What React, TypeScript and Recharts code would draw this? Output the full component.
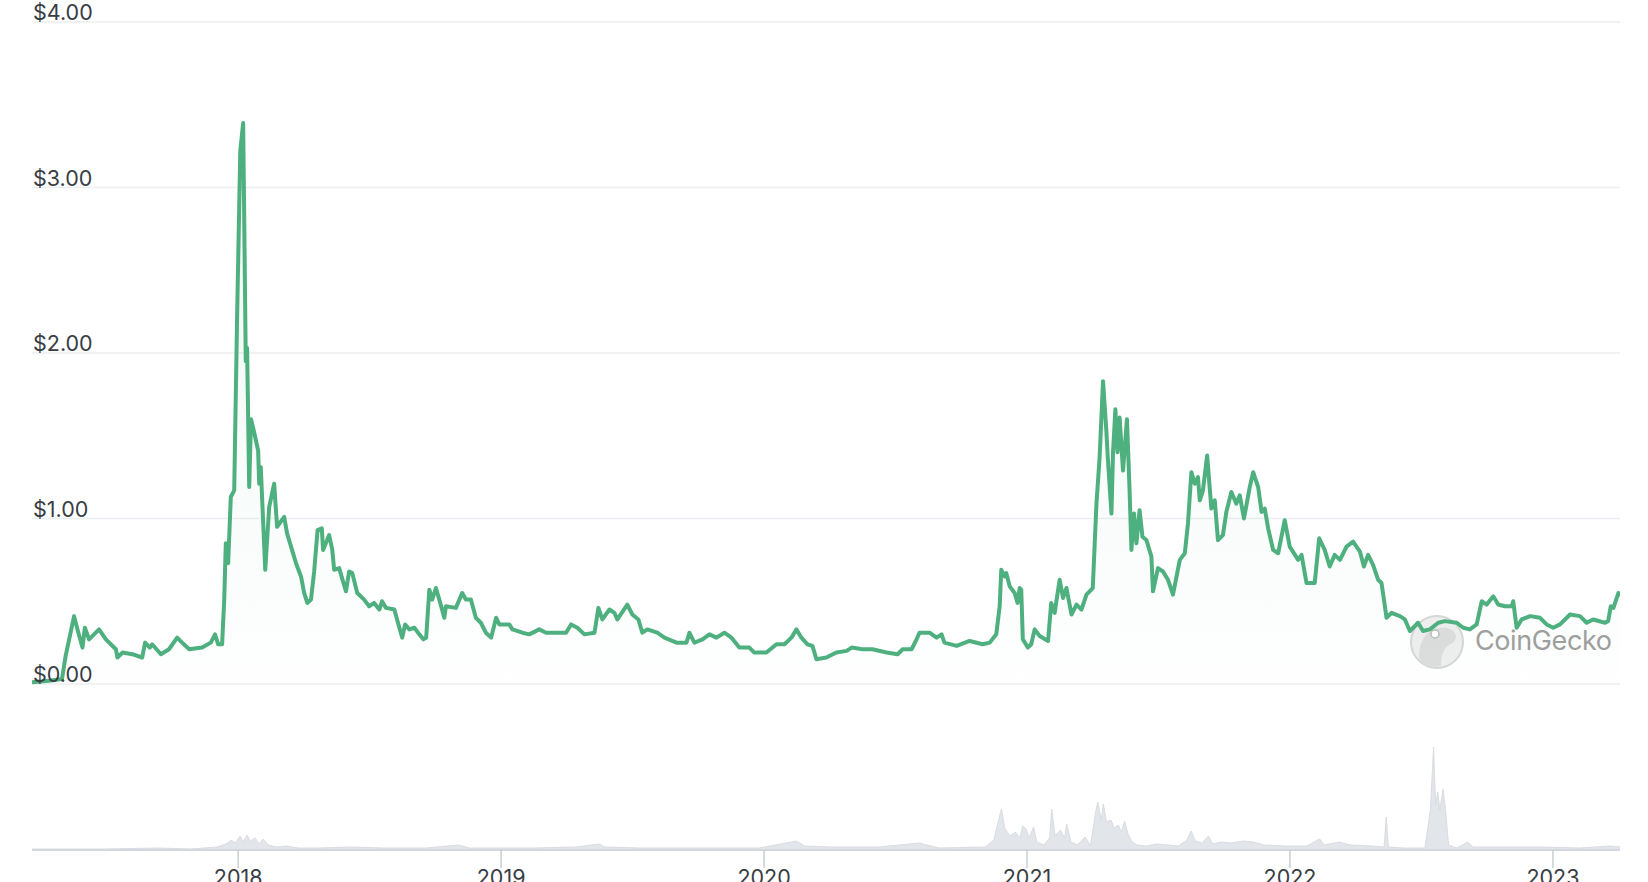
import { AreaChart, Area, XAxis, YAxis, CartesianGrid } from 'recharts';

// price history, decimal year -> USD
const priceDates = [
  2017.216, 2017.281, 2017.33, 2017.344, 2017.376, 2017.389, 2017.408, 2017.417, 2017.433, 2017.471,
  2017.497, 2017.535, 2017.541, 2017.56, 2017.597, 2017.635, 2017.646, 2017.664, 2017.673, 2017.706,
  2017.737, 2017.768, 2017.787, 2017.814, 2017.863, 2017.896, 2017.912, 2017.924, 2017.939, 2017.947,
  2017.953, 2017.962, 2017.972, 2017.985, 2017.996, 2018.008, 2018.019, 2018.029, 2018.034, 2018.042,
  2018.049, 2018.061, 2018.076, 2018.08, 2018.086, 2018.103, 2018.11, 2018.118, 2018.137, 2018.148,
  2018.175, 2018.186, 2018.22, 2018.239, 2018.251, 2018.263, 2018.277, 2018.289, 2018.302, 2018.318,
  2018.323, 2018.346, 2018.358, 2018.365, 2018.384, 2018.41, 2018.422, 2018.434, 2018.453, 2018.479,
  2018.498, 2018.517, 2018.537, 2018.547, 2018.562, 2018.594, 2018.613, 2018.624, 2018.635, 2018.651,
  2018.67, 2018.689, 2018.704, 2018.715, 2018.727, 2018.738, 2018.752, 2018.765, 2018.784, 2018.79,
  2018.828, 2018.852, 2018.866, 2018.885, 2018.904, 2018.923, 2018.942, 2018.962, 2018.981, 2018.993,
  2019.031, 2019.043, 2019.081, 2019.107, 2019.145, 2019.171, 2019.221, 2019.247, 2019.266, 2019.29,
  2019.317, 2019.355, 2019.37, 2019.385, 2019.412, 2019.431, 2019.442, 2019.48, 2019.499, 2019.522,
  2019.537, 2019.556, 2019.594, 2019.621, 2019.667, 2019.705, 2019.716, 2019.735, 2019.766, 2019.792,
  2019.819, 2019.849, 2019.876, 2019.906, 2019.944, 2019.963, 2020.009, 2020.047, 2020.078, 2020.104,
  2020.123, 2020.142, 2020.165, 2020.184, 2020.199, 2020.237, 2020.275, 2020.314, 2020.333, 2020.374,
  2020.412, 2020.466, 2020.508, 2020.527, 2020.561, 2020.58, 2020.591, 2020.629, 2020.656, 2020.675,
  2020.686, 2020.732, 2020.782, 2020.831, 2020.858, 2020.883, 2020.896, 2020.902, 2020.915, 2020.921,
  2020.934, 2020.953, 2020.964, 2020.972, 2020.978, 2020.984, 2021.003, 2021.016, 2021.029, 2021.048,
  2021.08, 2021.092, 2021.105, 2021.124, 2021.137, 2021.15, 2021.169, 2021.188, 2021.207, 2021.226,
  2021.25, 2021.264, 2021.276, 2021.289, 2021.302, 2021.307, 2021.321, 2021.327, 2021.336, 2021.344,
  2021.352, 2021.365, 2021.38, 2021.39, 2021.397, 2021.407, 2021.416, 2021.428, 2021.439, 2021.454,
  2021.473, 2021.479, 2021.498, 2021.517, 2021.536, 2021.555, 2021.581, 2021.6, 2021.612, 2021.625,
  2021.638, 2021.65, 2021.657, 2021.669, 2021.685, 2021.701, 2021.714, 2021.726, 2021.745, 2021.758,
  2021.777, 2021.796, 2021.809, 2021.825, 2021.847, 2021.86, 2021.879, 2021.892, 2021.904, 2021.917,
  2021.936, 2021.955, 2021.98, 2021.999, 2022.031, 2022.044, 2022.063, 2022.094, 2022.111, 2022.132,
  2022.151, 2022.17, 2022.19, 2022.215, 2022.24, 2022.266, 2022.281, 2022.297, 2022.316, 2022.335,
  2022.348, 2022.361, 2022.367, 2022.386, 2022.418, 2022.437, 2022.456, 2022.487, 2022.506, 2022.532,
  2022.564, 2022.589, 2022.634, 2022.659, 2022.684, 2022.71, 2022.729, 2022.748, 2022.773, 2022.792,
  2022.817, 2022.843, 2022.849, 2022.862, 2022.881, 2022.913, 2022.951, 2022.976, 2023.001, 2023.027,
  2023.065, 2023.103, 2023.128, 2023.153, 2023.198, 2023.21, 2023.22, 2023.23, 2023.249, 2023.255,
];

const prices = [
  0.01, 0.02, 0.03, 0.17, 0.41, 0.33, 0.22, 0.34, 0.27, 0.33,
  0.27, 0.21, 0.16, 0.19, 0.18, 0.16, 0.25, 0.22, 0.24, 0.18,
  0.21, 0.28, 0.25, 0.21, 0.22, 0.25, 0.3, 0.24, 0.24, 0.51,
  0.85, 0.73, 1.13, 1.17, 2.22, 3.22, 3.39, 1.95, 2.03, 1.19,
  1.6, 1.52, 1.41, 1.21, 1.31, 0.69, 0.87, 1.07, 1.21, 0.95,
  1.01, 0.91, 0.73, 0.65, 0.55, 0.49, 0.51, 0.68, 0.93, 0.94,
  0.81, 0.9, 0.81, 0.69, 0.7, 0.56, 0.68, 0.67, 0.55, 0.51,
  0.47, 0.49, 0.45, 0.5, 0.46, 0.45, 0.34, 0.28, 0.36, 0.33,
  0.34, 0.3, 0.27, 0.28, 0.57, 0.51, 0.58, 0.51, 0.4, 0.47,
  0.46, 0.55, 0.51, 0.51, 0.4, 0.37, 0.31, 0.28, 0.4, 0.36,
  0.36, 0.33, 0.31, 0.3, 0.33, 0.31, 0.31, 0.31, 0.36, 0.34,
  0.3, 0.31, 0.46, 0.39, 0.45, 0.43, 0.39, 0.48, 0.42, 0.39,
  0.31, 0.33, 0.31, 0.28, 0.25, 0.25, 0.31, 0.25, 0.27, 0.3,
  0.28, 0.31, 0.28, 0.22, 0.22, 0.19, 0.19, 0.24, 0.24, 0.28,
  0.33, 0.28, 0.24, 0.23, 0.15, 0.16, 0.19, 0.2, 0.22, 0.21,
  0.21, 0.19, 0.18, 0.21, 0.21, 0.27, 0.31, 0.31, 0.28, 0.3,
  0.25, 0.23, 0.26, 0.24, 0.25, 0.3, 0.47, 0.69, 0.65, 0.67,
  0.59, 0.55, 0.49, 0.58, 0.57, 0.27, 0.22, 0.24, 0.33, 0.29,
  0.26, 0.49, 0.43, 0.63, 0.52, 0.58, 0.42, 0.48, 0.45, 0.54,
  0.58, 1.09, 1.37, 1.83, 1.52, 1.37, 1.03, 1.4, 1.66, 1.4,
  1.61, 1.29, 1.6, 1.17, 0.81, 1.03, 0.85, 1.05, 0.89, 0.87,
  0.77, 0.56, 0.7, 0.68, 0.63, 0.54, 0.75, 0.79, 0.97, 1.28,
  1.21, 1.25, 1.11, 1.17, 1.38, 1.06, 1.11, 0.87, 0.9, 1.04,
  1.16, 1.09, 1.14, 1.0, 1.19, 1.28, 1.19, 1.04, 1.06, 0.94,
  0.81, 0.79, 0.99, 0.83, 0.75, 0.78, 0.61, 0.61, 0.88, 0.81,
  0.71, 0.78, 0.75, 0.83, 0.86, 0.8, 0.71, 0.78, 0.72, 0.63,
  0.61, 0.47, 0.4, 0.43, 0.41, 0.39, 0.32, 0.37, 0.32, 0.33,
  0.37, 0.38, 0.37, 0.34, 0.33, 0.36, 0.5, 0.48, 0.53, 0.48,
  0.47, 0.47, 0.5, 0.34, 0.39, 0.41, 0.4, 0.36, 0.34, 0.36,
  0.42, 0.41, 0.37, 0.39, 0.37, 0.38, 0.47, 0.46, 0.55, 0.53,
];

// trading volume (relative units)
const volumeDates = [
  2017.216, 2017.494, 2017.696, 2017.817, 2017.92, 2017.954, 2017.973, 2017.989, 2018.008, 2018.019,
  2018.034, 2018.046, 2018.065, 2018.08, 2018.095, 2018.114, 2018.145, 2018.186, 2018.228, 2018.308,
  2018.43, 2018.552, 2018.715, 2018.837, 2018.879, 2019.001, 2019.123, 2019.286, 2019.374, 2019.393,
  2019.526, 2019.754, 2019.983, 2020.123, 2020.154, 2020.249, 2020.439, 2020.591, 2020.618, 2020.667,
  2020.841, 2020.874, 2020.89, 2020.903, 2020.915, 2020.935, 2020.956, 2020.972, 2020.984, 2020.996,
  2021.008, 2021.025, 2021.037, 2021.065, 2021.086, 2021.094, 2021.107, 2021.127, 2021.143, 2021.151,
  2021.167, 2021.192, 2021.221, 2021.241, 2021.261, 2021.269, 2021.282, 2021.29, 2021.302, 2021.319,
  2021.331, 2021.347, 2021.359, 2021.371, 2021.384, 2021.4, 2021.42, 2021.453, 2021.494, 2021.535,
  2021.575, 2021.608, 2021.624, 2021.64, 2021.665, 2021.69, 2021.706, 2021.738, 2021.779, 2021.82,
  2021.861, 2021.901, 2021.983, 2022.064, 2022.113, 2022.13, 2022.187, 2022.228, 2022.309, 2022.358,
  2022.366, 2022.374, 2022.432, 2022.472, 2022.513, 2022.534, 2022.546, 2022.554, 2022.562, 2022.57,
  2022.582, 2022.591, 2022.603, 2022.635, 2022.676, 2022.696, 2022.798, 2022.951, 2023.103, 2023.217,
  2023.255,
];

const volumes = [
  1, 1, 2, 1, 3, 6, 10, 7, 14, 8,
  15, 9, 12, 6, 11, 5, 3, 4, 2, 2,
  3, 2, 2, 5, 2, 2, 2, 3, 6, 3,
  2, 2, 2, 9, 4, 3, 3, 7, 5, 2,
  3, 10, 28, 41, 22, 14, 18, 12, 24, 21,
  12, 23, 8, 5, 12, 41, 14, 20, 12, 26,
  8, 5, 13, 4, 38, 48, 30, 46, 28, 30,
  22, 25, 18, 29, 16, 8, 5, 4, 6, 5,
  4, 10, 19, 9, 7, 14, 6, 8, 7, 9,
  8, 5, 4, 4, 11, 5, 8, 5, 4, 3,
  33, 3, 2, 2, 2, 40, 103, 45, 58, 40,
  61, 42, 5, 2, 8, 3, 3, 3, 2, 4,
  3,
];

const priceTicks = [0, 1, 2, 3, 4];
const yearTicks = [2018, 2019, 2020, 2021, 2022, 2023];

const priceData = priceDates.map((t, i) => ({ t, price: prices[i] }));
const volumeData = volumeDates.map((t, i) => ({ t, volume: volumes[i] }));
const xDomain = [priceDates[0], priceDates[priceDates.length - 1]];

const FONT = 'Inter, "Noto Sans", sans-serif';
const GREEN = '#4fb07f';
const TEXT = '#383d45';

function PriceTick({ y, payload }: any) {
  return (
    <text x={33} y={y - 2} fill={TEXT} fontSize={21.5} fontFamily={FONT} textAnchor="start">
      {'$' + Number(payload.value).toFixed(2)}
    </text>
  );
}

function Watermark() {
  return (
    <div style={{ position: 'absolute', left: 1405, top: 612, width: 230, height: 62, pointerEvents: 'none' }}>
      <svg width={230} height={62}>
        <circle cx={32} cy={30} r={26} fill="#eeeeee" stroke="#d6d6d6" strokeWidth={2} />
        <path d="M14 46 C 14 24, 26 14, 42 16 C 52 18, 54 28, 46 32 C 40 35, 36 40, 36 54 C 28 56, 18 53, 14 46 Z" fill="#dcdcdc" />
        <circle cx={30} cy={22} r={4} fill="#ffffff" stroke="#bdbdbd" strokeWidth={1.5} />
        <text x={70} y={38} fill="#9e9e9e" fontSize={27} fontFamily={FONT} letterSpacing={-0.4}>
          CoinGecko
        </text>
      </svg>
    </div>
  );
}

export default function App() {
  return (
    <div style={{ position: 'absolute', left: 0, top: 0, width: 1648, height: 882, background: '#fff', overflow: 'hidden' }}>
      <Watermark />
      <div style={{ position: 'absolute', left: 0, top: 0 }}>
        <AreaChart width={1648} height={700} data={priceData} margin={{ top: 22, right: 28, bottom: 16, left: 32 }}>
          <defs>
            <linearGradient id="priceFill" x1="0" y1="0" x2="0" y2="1">
              <stop offset="0%" stopColor={GREEN} stopOpacity={0.16} />
              <stop offset="100%" stopColor={GREEN} stopOpacity={0.01} />
            </linearGradient>
          </defs>
          <CartesianGrid horizontal vertical={false} stroke="#eceef1" strokeWidth={1.5} />
          <XAxis dataKey="t" type="number" domain={xDomain} hide allowDataOverflow />
          <YAxis
            domain={[0, 4]}
            ticks={priceTicks}
            mirror
            axisLine={false}
            tickLine={false}
            tick={(p: any) => <PriceTick {...p} />}
            interval={0}
          />
          <Area
            type="linear"
            dataKey="price"
            stroke={GREEN}
            strokeWidth={4}
            strokeLinejoin="round"
            fill="url(#priceFill)"
            dot={false}
            isAnimationActive={false}
          />
        </AreaChart>
      </div>
      <div style={{ position: 'absolute', left: 0, top: 700 }}>
        <AreaChart width={1648} height={182} data={volumeData} margin={{ top: 30, right: 28, bottom: 0, left: 32 }}>
          <XAxis
            dataKey="t"
            type="number"
            domain={xDomain}
            ticks={yearTicks}
            interval={0}
            height={32}
            axisLine={{ stroke: '#d3d7de', strokeWidth: 2 }}
            tickLine={{ stroke: '#c9ced8', strokeWidth: 1.5 }}
            tickSize={18}
            tickMargin={2}
            tick={{ fill: TEXT, fontSize: 21.5, fontFamily: FONT }}
            tickFormatter={(v) => String(v)}
            allowDataOverflow
          />
          <YAxis domain={[0, 120]} hide />
          <Area
            type="linear"
            dataKey="volume"
            stroke="#d9dce2"
            strokeWidth={1}
            fill="#dfe2e7"
            fillOpacity={0.9}
            dot={false}
            isAnimationActive={false}
          />
        </AreaChart>
      </div>
    </div>
  );
}
